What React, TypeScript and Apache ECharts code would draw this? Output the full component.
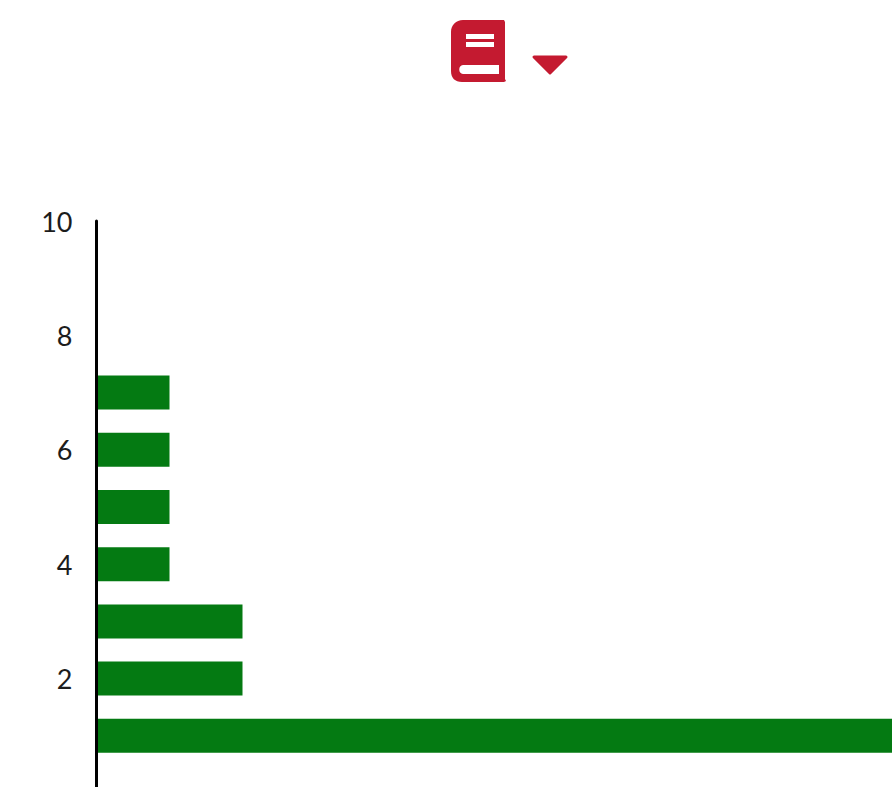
import React, { useEffect, useRef } from "react";
import * as echarts from "echarts";

const yCategories = ["0", "1", "2", "3", "4", "5", "6", "7", "8", "9", "10"];
const barValues = [null, 11, 2, 2, 1, 1, 1, 1, null, null, null];

const BOOK_PATH =
  "M12 0 L53 0 L54 2 L54 59 L55 61 L53 62 L11 62 C4 62 0 58 0 51 L0 12 C0 5 5 0 12 0 Z " +
  "M15 14 L15 19 L43 19 L43 14 Z " +
  "M15 22 L15 27 L43 27 L43 22 Z " +
  "M12 45 C7 45 7 54 12 54 L48 54 L48 45 Z";

echarts.graphic.registerShape("bookIcon", echarts.graphic.extendPath(BOOK_PATH, {}));

export default function App() {
  const ref = useRef<HTMLDivElement>(null);
  useEffect(() => {
    const chart = echarts.init(ref.current!, null, { renderer: "svg" });
    chart.setOption({
      animation: false,
      backgroundColor: "#ffffff",
      grid: { left: 96.5, top: 221, width: 803, height: 572, containLabel: false, outerBoundsMode: "none" },
      xAxis: { type: "value", min: 0, max: 11, show: false },
      yAxis: {
        type: "category",
        data: yCategories,
        boundaryGap: false,
        z: 5,
        axisLine: { show: true, onZero: false, lineStyle: { color: "#000000", width: 3 } },
        axisTick: { show: false },
        axisLabel: {
          interval: (i: number) => i > 0 && i % 2 === 0,
          margin: 24,
          fontFamily: "Lato",
          fontSize: 27,
          color: "#1c1c1c",
        },
        splitLine: { show: false },
      },
      series: [
        {
          type: "bar",
          data: barValues,
          barWidth: 34,
          itemStyle: { color: "#047a12" },
          silent: true,
          z: 1,
        },
      ],
      graphic: [
        { type: "bookIcon", x: 451, y: 20, style: { fill: "#c41a30" } },
        {
          type: "polygon",
          shape: { points: [[534, 57], [566, 57], [550, 73]] },
          style: { fill: "#c41a30", stroke: "#c41a30", lineWidth: 3, lineJoin: "round" },
        },
      ],
    });
    return () => chart.dispose();
  }, []);
  return <div ref={ref} style={{ position: "absolute", left: 0, top: 0, width: 892, height: 787 }} />;
}
